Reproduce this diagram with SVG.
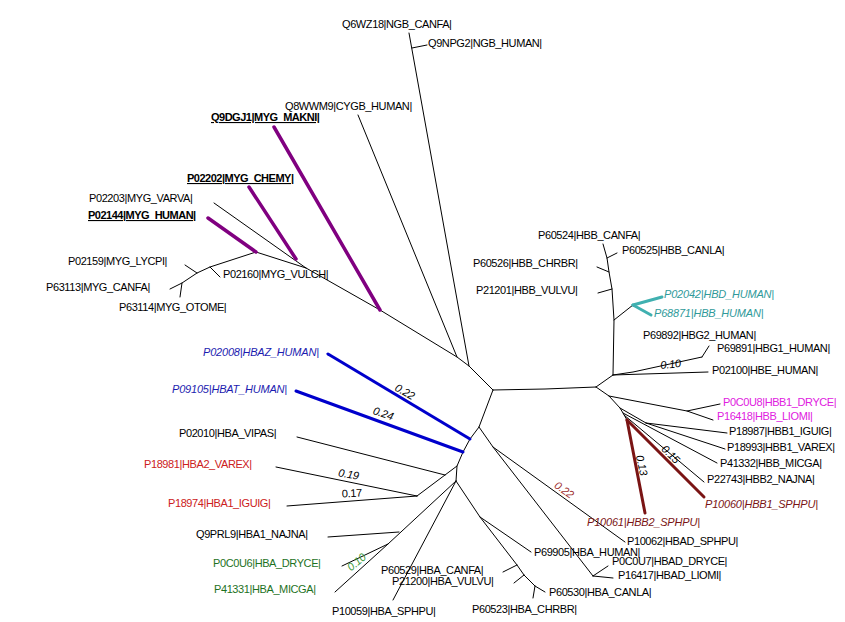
<svg xmlns="http://www.w3.org/2000/svg" width="845" height="622" viewBox="0 0 845 622">
<style>
.l{stroke:#000;stroke-width:1;fill:none;stroke-linecap:round;stroke-linejoin:round}
.pu{stroke:#800080;stroke-width:3.5;fill:none;stroke-linecap:round}
.bl{stroke:#0000CC;stroke-width:3;fill:none;stroke-linecap:round}
.dr{stroke:#7A1414;stroke-width:3;fill:none;stroke-linecap:round}
.tl{stroke:#40B0B0;stroke-width:3;fill:none;stroke-linecap:round}
text{font-family:"Liberation Sans",Arial,sans-serif;font-size:11px;letter-spacing:-0.4px;fill:#000}
.b{font-weight:bold;text-decoration:underline;letter-spacing:-0.5px}
.i{font-style:italic;letter-spacing:-0.2px}
.cb{fill:#1C1CB0}
.cr{fill:#CC2020}
.cg{fill:#1E721E}
.cm{fill:#E020E0}
.ct{fill:#309A9A}
.cd{fill:#7A1414}
</style>
<rect width="845" height="622" fill="#fff"/>
<g id="connectors">
<path class="l" d="M493,390 L545,389 L596,387"/>
<path class="l" d="M409,33 L469,366"/>
<path class="l" d="M412,48 L427,45"/>
<path class="l" d="M358,115 L457,357"/>
<path class="l" d="M380,310 L457,357 L469,366 L493,390"/>
<path class="l" d="M306,268 L380,310"/>
<path class="l" d="M256,252 L306,268"/>
<path class="l" d="M214,203 L306,268"/>
<path class="l" d="M256,252 L210,267 L197,273 L182,283 L170,289"/>
<path class="l" d="M210,267 L220,277"/>
<path class="l" d="M197,273 L185,265"/>
<path class="l" d="M182,283 L180,297"/>
<path class="pu" d="M274,127 L380,310"/>
<path class="pu" d="M249,187 L296,259"/>
<path class="pu" d="M208,218 L256,252"/>
<path class="l" d="M493,390 L479,427 L470,439 L463,452 L457,466 L456,481"/>
<path class="l" d="M479,427 L493,447"/>
<path class="l" d="M493,447 L593,576"/>
<path class="l" d="M493,447 L625,542"/>
<path class="l" d="M593,576 L608,566"/>
<path class="l" d="M593,576 L613,578"/>
<path class="bl" d="M328,354 L470,439"/>
<path class="bl" d="M296,391 L463,452"/>
<path class="l" d="M297,437 L445,475"/>
<path class="l" d="M457,466 L417,496"/>
<path class="l" d="M276,467 L417,496"/>
<path class="l" d="M287,506 L417,496"/>
<path class="l" d="M456,481 L388,544"/>
<path class="l" d="M328,537 L399,532"/>
<path class="l" d="M342,566 L388,544"/>
<path class="l" d="M335,592 L388,544"/>
<path class="l" d="M456,481 L393,600"/>
<path class="l" d="M456,481 L480,517"/>
<path class="l" d="M480,517 L531,552"/>
<path class="l" d="M480,517 L517,565 L524,575 L535,586 L545,592"/>
<path class="l" d="M517,565 L503,572"/>
<path class="l" d="M524,575 L514,583"/>
<path class="l" d="M535,586 L533,598"/>
<path class="l" d="M596,387 L613,375"/>
<path class="l" d="M613,375 L614,320 L612,289 L609,272 L607,258 L603,244"/>
<path class="l" d="M613,375 L708,372"/>
<path class="l" d="M613,375 L633,372 L702,357"/>
<path class="l" d="M702,357 L709,346"/>
<path class="l" d="M614,320 L633,305"/>
<path class="tl" d="M633,305 L662,297"/>
<path class="tl" d="M633,305 L651,315"/>
<path class="l" d="M612,289 L598,293"/>
<path class="l" d="M609,272 L597,267"/>
<path class="l" d="M607,258 L617,253"/>
<path class="l" d="M596,387 L609,396"/>
<path class="l" d="M609,396 L687,411 L720,404"/>
<path class="l" d="M687,411 L713,420"/>
<path class="l" d="M609,396 L620,408 L623,413 L627,420"/>
<path class="l" d="M620,408 L646,423"/>
<path class="l" d="M646,423 L727,433"/>
<path class="l" d="M646,423 L725,449"/>
<path class="l" d="M623,413 L717,463"/>
<path class="l" d="M624,415 L704,482"/>
<path class="dr" d="M627,420 L704,497"/>
<path class="dr" d="M627,420 L645,513"/>
</g>
<g id="edge-labels">
<text class="i" transform="translate(403,395) rotate(29)" text-anchor="middle">0.22</text>
<text class="i" transform="translate(382,417) rotate(19)" text-anchor="middle">0.24</text>
<text class="i" transform="translate(348,478) rotate(10)" text-anchor="middle">0.19</text>
<text transform="translate(352,497) rotate(-3)" text-anchor="middle">0.17</text>
<text class="i" transform="translate(359,565) rotate(-40)" text-anchor="middle" fill="#3C9A3C" style="fill:#3C9A3C">0.10</text>
<text class="i" transform="translate(562,493) rotate(35)" text-anchor="middle" style="fill:#A03030">0.22</text>
<text class="i" transform="translate(638,466) rotate(78)" text-anchor="middle">0.13</text>
<text class="i" transform="translate(668,457) rotate(45)" text-anchor="middle">0.15</text>
<text class="i" transform="translate(671,368) rotate(-6)" text-anchor="middle">0.10</text>
</g>
<g id="Q6WZ18"><text x="342" y="28">Q6WZ18|NGB_CANFA|</text></g>
<g id="Q9NPG2"><text x="428" y="47">Q9NPG2|NGB_HUMAN|</text></g>
<g id="Q8WWM9"><text x="285" y="110">Q8WWM9|CYGB_HUMAN|</text></g>
<g id="Q9DGJ1"><text class="b" x="211" y="121">Q9DGJ1|MYG_MAKNI|</text></g>
<g id="P02202"><text class="b" x="187" y="182">P02202|MYG_CHEMY|</text></g>
<g id="P02203"><text x="89" y="202">P02203|MYG_VARVA|</text></g>
<g id="P02144"><text class="b" x="88" y="219">P02144|MYG_HUMAN|</text></g>
<g id="P02159"><text x="68" y="265">P02159|MYG_LYCPI|</text></g>
<g id="P02160"><text x="223" y="278">P02160|MYG_VULCH|</text></g>
<g id="P63113"><text x="46" y="291">P63113|MYG_CANFA|</text></g>
<g id="P63114"><text x="119" y="311">P63114|MYG_OTOME|</text></g>
<g id="P02008"><text class="i cb" x="203" y="356">P02008|HBAZ_HUMAN|</text></g>
<g id="P09105"><text class="i cb" x="172" y="393">P09105|HBAT_HUMAN|</text></g>
<g id="P02010"><text x="179" y="437">P02010|HBA_VIPAS|</text></g>
<g id="P18981"><text class="cr" x="144" y="468">P18981|HBA2_VAREX|</text></g>
<g id="P18974"><text class="cr" x="168" y="507">P18974|HBA1_IGUIG|</text></g>
<g id="Q9PRL9"><text x="196" y="538">Q9PRL9|HBA1_NAJNA|</text></g>
<g id="P0C0U6"><text class="cg" x="213" y="567">P0C0U6|HBA_DRYCE|</text></g>
<g id="P41331"><text class="cg" x="214" y="593">P41331|HBA_MICGA|</text></g>
<g id="P60529"><text x="381" y="574">P60529|HBA_CANFA|</text></g>
<g id="P21200"><text x="392" y="585">P21200|HBA_VULVU|</text></g>
<g id="P10059"><text x="332" y="615">P10059|HBA_SPHPU|</text></g>
<g id="P60523"><text x="472" y="613">P60523|HBA_CHRBR|</text></g>
<g id="P60530"><text x="549" y="596">P60530|HBA_CANLA|</text></g>
<g id="P69905"><text x="534" y="556">P69905|HBA_HUMAN|</text></g>
<g id="P0C0U7"><text x="612" y="565">P0C0U7|HBAD_DRYCE|</text></g>
<g id="P16417"><text x="618" y="579">P16417|HBAD_LIOMI|</text></g>
<g id="P10062"><text x="627" y="545">P10062|HBAD_SPHPU|</text></g>
<g id="P10061"><text class="i cd" x="587" y="526">P10061|HBB2_SPHPU|</text></g>
<g id="P10060"><text class="i cd" x="705" y="508">P10060|HBB1_SPHPU|</text></g>
<g id="P22743"><text x="707" y="483">P22743|HBB2_NAJNA|</text></g>
<g id="P41332"><text x="720" y="467">P41332|HBB_MICGA|</text></g>
<g id="P18993"><text x="727" y="451">P18993|HBB1_VAREX|</text></g>
<g id="P18987"><text x="729" y="435">P18987|HBB1_IGUIG|</text></g>
<g id="P16418"><text class="cm" x="717" y="420">P16418|HBB_LIOMI|</text></g>
<g id="P0C0U8"><text class="cm" x="723" y="406">P0C0U8|HBB1_DRYCE|</text></g>
<g id="P02100"><text x="712" y="374">P02100|HBE_HUMAN|</text></g>
<g id="P69891"><text x="717" y="352">P69891|HBG1_HUMAN|</text></g>
<g id="P69892"><text x="643" y="339">P69892|HBG2_HUMAN|</text></g>
<g id="P68871"><text class="i ct" x="654" y="317">P68871|HBB_HUMAN|</text></g>
<g id="P02042"><text class="i ct" x="664" y="298">P02042|HBD_HUMAN|</text></g>
<g id="P21201"><text x="476" y="294">P21201|HBB_VULVU|</text></g>
<g id="P60526"><text x="473" y="267">P60526|HBB_CHRBR|</text></g>
<g id="P60525"><text x="622" y="254">P60525|HBB_CANLA|</text></g>
<g id="P60524"><text x="538" y="239">P60524|HBB_CANFA|</text></g>
</svg>
